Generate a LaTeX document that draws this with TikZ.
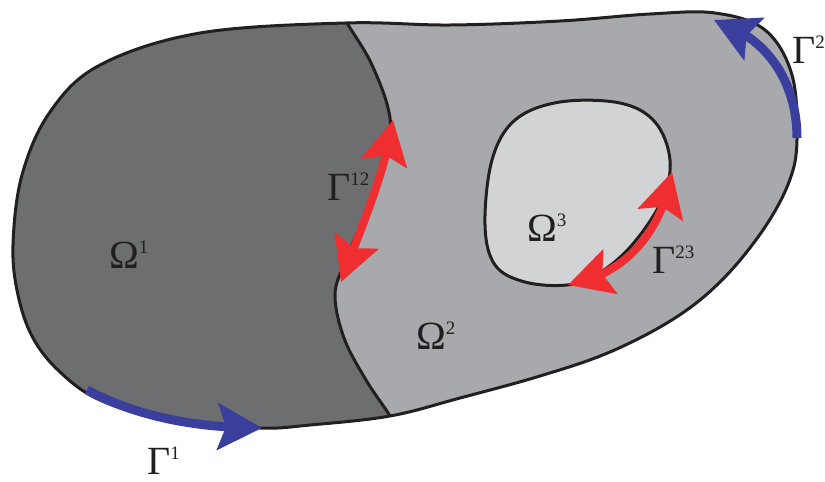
\documentclass[tikz,border=0pt]{standalone}
\usepackage{fontspec}
\setmainfont{Liberation Serif}
\usetikzlibrary{arrows.meta,bending}
\definecolor{omA}{HTML}{6D6E70}
\definecolor{omB}{HTML}{A7A9AC}
\definecolor{omC}{HTML}{D1D3D4}
\definecolor{edgec}{HTML}{231F20}
\definecolor{ired}{HTML}{EE2E31}
\definecolor{bblue}{HTML}{3A3E9C}
\newcommand\symlab[2]{#1\raisebox{15pt}{\fontsize{19}{19}\selectfont #2}}
\begin{document}
\begin{tikzpicture}[x=1pt,y=-1pt,
  outline/.style={draw=edgec,line width=3pt},
  lab/.style={font=\fontsize{40}{40}\selectfont,inner sep=0pt,anchor=base west,text=edgec},
  headtip/.tip={Stealth[length=44pt,width=46pt,inset=8pt,flex]},
  redarrow/.style={draw=ired,line width=8pt,headtip-headtip},
  bluearrow/.style={draw=bblue,line width=9pt,-headtip}]
\useasboundingbox (0,0) rectangle (825,482);
\def\outerpath{plot[smooth cycle,tension=0.6] coordinates {(13,245) (22,175) (50,112) (100,65) (200,33) (345,23) (450,25) (560,21) (650,14) (715,13) (765,30) (792,75) (797,140) (789,182) (763,230) (722,280) (675,318) (610,352) (540,376) (460,398) (390,416) (310,425) (260,428) (170,421) (100,400) (60,372) (33,338) (18,295)}}
\def\dividerpath{plot[smooth,tension=0.6] coordinates {(337,4) (347,23) (372,65) (390,118) (385,165) (365,215) (345,262) (335,295) (344,338) (366,380) (390,416) (402,440)}}
\def\holepath{plot[smooth cycle,tension=0.6] coordinates {(485,225) (492,160) (515,120) (560,102) (620,103) (655,122) (670,160) (662,200) (632,245) (598,274) (567,285) (525,282) (495,265)}}
% regions
\fill[omB] \outerpath;
\begin{scope}
  \clip \outerpath;
  \fill[omA] \dividerpath -- (-20,460) -- (-20,-20) -- cycle;
  \draw[outline] \dividerpath;
\end{scope}
\fill[omC] \holepath;
\draw[outline] \outerpath;
\draw[outline] \holepath;
% arrow end points
\coordinate (g12a) at (393,120);
\coordinate (g12b) at (341,282);
\coordinate (g23a) at (568,285);
\coordinate (g23b) at (672,172);
\coordinate (g1a) at (87,390);
\coordinate (g1b) at (262,428);
\coordinate (g2a) at (797,138);
\coordinate (g2b) at (714,20);
\draw[redarrow] (g12a) .. controls (385,175) and (360,230) .. (g12b);
\draw[redarrow] (g23a) .. controls (625,275) and (662,232) .. (g23b);
\draw[bluearrow] (g1a) .. controls (140,418) and (200,428) .. (g1b);
\draw[bluearrow] (g2a) .. controls (797,85) and (770,38) .. (g2b);
% labels
\node[lab] (o1) at (109,268) {\symlab{Ω}{1}};
\node[lab] (o2) at (416,349) {\symlab{Ω}{2}};
\node[lab] (o3) at (527,241) {\symlab{Ω}{3}};
\node[lab] (l1) at (147,474) {\symlab{Γ}{1}};
\node[lab] (l12) at (327,200) {\symlab{Γ}{12}};
\node[lab] (l23) at (652,273) {\symlab{Γ}{23}};
\node[lab] (l2) at (792,63) {\symlab{Γ}{2}};
\end{tikzpicture}
\end{document}
